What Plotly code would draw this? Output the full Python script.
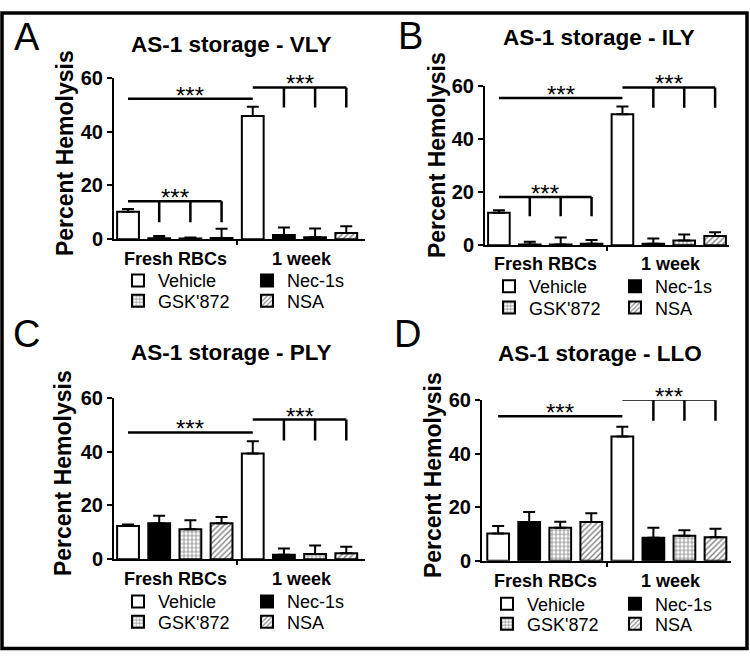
import plotly.graph_objects as go

W, H = 750, 662

# ---------------- data ----------------
treatments = ["Vehicle", "Nec-1s", "GSK'872", "NSA"]
groups = ["Fresh RBCs", "1 week"]
titles = ["AS-1 storage - VLY", "AS-1 storage - ILY", "AS-1 storage - PLY", "AS-1 storage - LLO"]
letters = ["A", "B", "C", "D"]
yticks = [0, 20, 40, 60]

vly_fresh = [10.2, 0.3, 0.2, 0.4]
vly_week = [45.8, 1.5, 0.7, 2.3]
vly_fresh_err = [1.0, 0.9, 0.4, 3.5]
vly_week_err = [3.4, 2.8, 3.3, 2.5]

ily_fresh = [12.3, 0.3, 0.3, 0.6]
ily_week = [49.4, 0.6, 1.8, 3.5]
ily_fresh_err = [0.9, 1.0, 2.6, 1.4]
ily_week_err = [2.9, 1.9, 2.3, 1.4]

ply_fresh = [12.3, 13.3, 11.1, 13.3]
ply_week = [39.3, 1.6, 1.9, 2.2]
ply_fresh_err = [0.6, 2.8, 3.4, 2.4]
ply_week_err = [4.5, 2.4, 3.2, 2.4]

llo_fresh = [10.2, 14.5, 12.4, 14.5]
llo_week = [46.5, 8.6, 9.4, 8.8]
llo_fresh_err = [2.8, 3.7, 2.2, 3.3]
llo_week_err = [3.6, 3.8, 2.0, 3.2]

# significance brackets: (first bar, last bar, bracket height, drop-to height or None)
vly_sig = [(0, 3, 14.1, 6.3), (0, 4, 52.2, None), (4, 7, 56.4, 48.9)]
ily_sig = [(0, 3, 18.2, 10.9), (0, 4, 55.5, None), (4, 7, 59.5, 51.8)]
ply_sig = [(0, 4, 47.1, None), (4, 7, 51.9, 44.1)]
llo_sig = [(0, 4, 54.0, None), (4, 7, 60.2, 52.4)]

panels = [
    (vly_fresh, vly_week, vly_fresh_err, vly_week_err, vly_sig),
    (ily_fresh, ily_week, ily_fresh_err, ily_week_err, ily_sig),
    (ply_fresh, ply_week, ply_fresh_err, ply_week_err, ply_sig),
    (llo_fresh, llo_week, llo_fresh_err, llo_week_err, llo_sig),
]

# ---------------- layout geometry (pixels) ----------------
# plot area: x0, x1, y at 60, y at 0
areas = [(114, 365, 69, 236), (485, 729, 77.7, 242.3), (114, 365, 400, 567), (482, 731, 402.7, 568.7)]
xranges = [[-0.45, 7.6], [-0.45, 7.45], [-0.45, 7.6], [-0.52, 7.5]]
letter_pos = [(27, 27), (410, 26), (27, 334), (407, 334)]
title_pos = [(231, 35), (599, 27), (231, 353), (600, 354)]
ytitle_pos = [(65, 147), (437, 149), (63, 478), (433, 480)]
group_label_dy = [21, 19.5, 21, 21]
group_line_dy = 7
legend_rows = [(279, 300), (285, 307), (611, 632), (613.5, 634)]
legend_cols = [(158, 287), (529, 655), (158, 287), (527, 655)]
group_line_span = [(-0.3, 3.35), (3.75, 7.4)]
group_label_x = [1.52, 5.58]

FONT = "Liberation Sans"


def px(xp):
    return xp / W


def py(yp):
    return 1 - yp / H


styles = {
    "Vehicle": dict(color="white"),
    "Nec-1s": dict(color="black"),
    "GSK'872": dict(color="white", pattern=dict(shape="+", fgcolor="black", bgcolor="white", size=4, solidity=0.35)),
    "NSA": dict(color="white", pattern=dict(shape="/", fgcolor="black", bgcolor="white", size=4, solidity=0.35)),
}
legend_slot = {"Vehicle": (0, 0), "Nec-1s": (0, 1), "GSK'872": (1, 0), "NSA": (1, 1)}

fig = go.Figure()
annotations = []
layout = {}
legend_count = 0

for p, (fresh, week, ferr, werr, sig) in enumerate(panels):
    xa = "x" if p == 0 else f"x{p+1}"
    ya = "y" if p == 0 else f"y{p+1}"
    x0, x1, yt, yb = areas[p]
    units_per_px = 60.0 / (yb - yt)

    def ypix(v):
        return yb - v / units_per_px

    for i, t in enumerate(treatments):
        legend_count += 1
        lid = "legend" if legend_count == 1 else f"legend{legend_count}"
        m = dict(styles[t])
        m["line"] = dict(color="black", width=2)
        fig.add_trace(go.Bar(
            x=[i, 4 + i], y=[fresh[i], week[i]], width=0.7,
            marker=m, name=t, legend=lid, showlegend=True,
            error_y=dict(type="data", array=[ferr[i], werr[i]], arrayminus=[0, 0],
                         symmetric=False, thickness=2, width=6, color="black"),
            xaxis=xa, yaxis=ya, hoverinfo="skip",
        ))
        r, c = legend_slot[t]
        layout[lid] = dict(
            x=px(legend_cols[p][c] - 40), y=py(legend_rows[p][r]),
            xanchor="left", yanchor="middle", bgcolor="rgba(0,0,0,0)",
            borderwidth=0, font=dict(family=FONT, size=18, color="black"),
            itemwidth=30, tracegroupgap=0,
        )

    # significance brackets
    bx, by = [], []
    for (a, b, h, d) in sig:
        bx += [a, b, None]
        by += [h, h, None]
        if d is not None:
            for k in range(a + 1, b + 1):
                bx += [k, k, None]
                by += [h, d, None]
        annotations.append(dict(x=(a + b) / 2, y=py(ypix(h)), xref=xa, yref="paper", text="***",
                                showarrow=False, yanchor="bottom", yshift=-12,
                                font=dict(family=FONT, size=24, color="black")))
    fig.add_trace(go.Scatter(x=bx, y=by, mode="lines", line=dict(color="black", width=2.5),
                             cliponaxis=False, showlegend=False, hoverinfo="skip",
                             xaxis=xa, yaxis=ya))

    # group underlines and labels
    gy = -group_line_dy * units_per_px
    gx, gyy = [], []
    for (s, e) in group_line_span:
        gx += [s, e, None]
        gyy += [gy, gy, None]
    fig.add_trace(go.Scatter(x=gx, y=gyy, mode="lines", line=dict(color="black", width=2.5),
                             cliponaxis=False, showlegend=False, hoverinfo="skip",
                             xaxis=xa, yaxis=ya))
    for g, gname in enumerate(groups):
        annotations.append(dict(x=group_label_x[g], y=py(yb + group_label_dy[p]), xref=xa, yref="paper",
                                text=gname, showarrow=False, yanchor="middle",
                                font=dict(family=FONT, size=18, color="black", weight="bold")))

    # axes
    xkey = "xaxis" if p == 0 else f"xaxis{p+1}"
    ykey = "yaxis" if p == 0 else f"yaxis{p+1}"
    layout[xkey] = dict(domain=[px(x0), px(x1)], range=xranges[p], anchor=ya,
                        showline=True, linecolor="black", linewidth=2, showgrid=False,
                        zeroline=False, tickvals=[3.5], ticks="outside", ticklen=4,
                        tickwidth=1.5, tickcolor="black", showticklabels=False, fixedrange=True)
    layout[ykey] = dict(domain=[py(yb), py(yt)], range=[0, 60], anchor=xa,
                        showline=True, linecolor="black", linewidth=2, showgrid=False,
                        zeroline=False, tickvals=yticks, ticks="outside", ticklen=5,
                        tickwidth=2, tickcolor="black",
                        tickfont=dict(family=FONT, size=20, color="black", weight="bold"),
                        fixedrange=True)

    # panel texts
    annotations.append(dict(x=px(letter_pos[p][0]), y=py(letter_pos[p][1]), xref="paper", yref="paper",
                            text=letters[p], showarrow=False, xanchor="center", yanchor="middle",
                            font=dict(family=FONT, size=38, color="black")))
    annotations.append(dict(x=px(title_pos[p][0]), y=py(title_pos[p][1]), xref="paper", yref="paper",
                            text=titles[p], showarrow=False, xanchor="center", yanchor="middle",
                            font=dict(family=FONT, size=22.5, color="black", weight="bold")))
    annotations.append(dict(x=px(ytitle_pos[p][0]), y=py(ytitle_pos[p][1]), xref="paper", yref="paper",
                            text="Percent Hemolysis", showarrow=False, textangle=-90,
                            xanchor="center", yanchor="middle",
                            font=dict(family=FONT, size=23, color="black", weight="bold")))

fig.update_layout(
    width=W, height=H, margin=dict(l=0, r=0, t=0, b=0),
    paper_bgcolor="white", plot_bgcolor="white", barmode="overlay",
    font=dict(family=FONT),
    annotations=annotations,
    shapes=[dict(type="rect", xref="paper", yref="paper", x0=px(2), x1=px(747), y0=py(659.5), y1=py(2),
                 line=dict(color="black", width=3.5))],
    **layout,
)

fig.write_html("out.html", config={"responsive": False, "displayModeBar": False},
               post_script="document.body.style.margin='0';document.body.style.padding='0';"
                           "document.body.style.overflow='hidden';")
